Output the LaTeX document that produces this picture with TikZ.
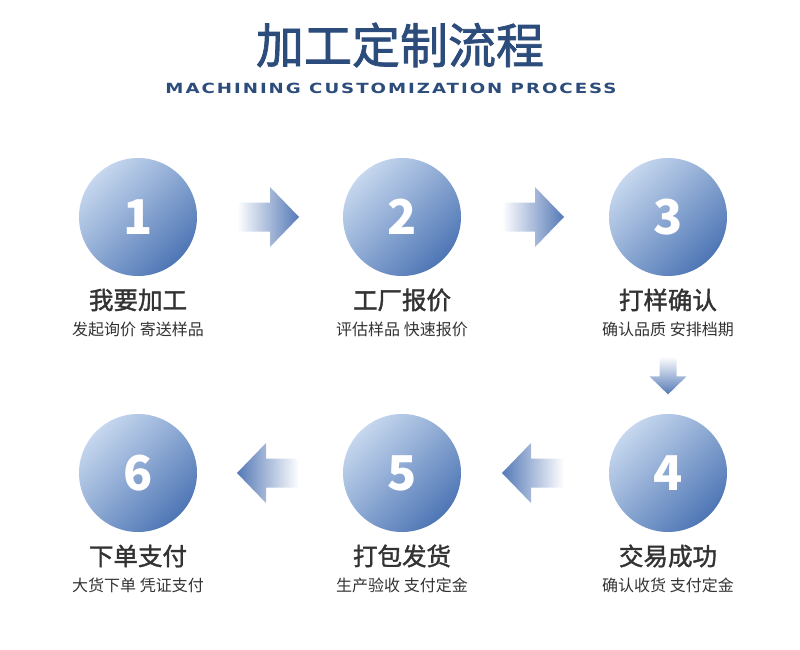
\documentclass[tikz,border=0pt]{standalone}
\usepackage{fontspec}
\usepackage{tikz}
\usetikzlibrary{calc, positioning}
\newfontfamily\cjk{Noto Sans CJK SC}
\newfontfamily\cjkmid[FakeBold=1.6]{Noto Sans CJK SC}
\newfontfamily\capsfont[FakeStretch=1.3, LetterSpace=14]{DejaVu Sans Bold}

\definecolor{titleblue}{HTML}{2C4C7B}
\definecolor{ballLight}{HTML}{C6D7EE}
\definecolor{ballDark}{HTML}{4E76B5}
\definecolor{arrowblue}{HTML}{5579B6}
\definecolor{inkgray}{HTML}{333333}

\def\rowA{-217}
\def\rowB{-473}

\tikzset{
  stepball/.style={circle, minimum size=118pt, inner sep=0pt,
    top color=ballLight, bottom color=ballDark, shading angle=45,
    text=white, font=\cjk\bfseries\fontsize{48}{48}\selectfont},
  stephead/.style={text=inkgray, font=\cjkmid\fontsize{24.5}{24.5}\selectfont},
  stepnote/.style={text=inkgray, font=\cjk\fontsize{16}{16}\selectfont},
  fadeR/.style={left color=white, right color=arrowblue},
  fadeL/.style={left color=arrowblue, right color=white},
  fadeD/.style={top color=white, bottom color=arrowblue},
}

\begin{document}
\begin{tikzpicture}[x=1pt, y=1pt]
  \useasboundingbox (0,0) rectangle (800,-650);

  % Title
  \node[text=titleblue, font=\cjkmid\fontsize{48}{48}\selectfont] (title) at (400,-45) {加工定制流程};
  \node[text=titleblue, font=\capsfont\fontsize{14}{14}\selectfont] (subtitle) at (391,-88) {MACHINING CUSTOMIZATION PROCESS};

  % Steps
  \foreach \i/\x/\y in {1/138/\rowA, 2/402/\rowA, 3/668/\rowA, 4/668/\rowB, 5/402/\rowB, 6/138/\rowB}{
    \node[stepball] (c\i) at (\x,\y) {\i};
  }

  \foreach \i/\head/\note in {1/我要加工/发起询价 寄送样品, 2/工厂报价/评估样品 快速报价, 3/打样确认/确认品质 安排档期,
                              4/交易成功/确认收货 支付定金, 5/打包发货/生产验收 支付定金, 6/下单支付/大货下单 凭证支付}{
    \node[stephead] (h\i) at ($(c\i)+(0,-83)$) {\head};
    \node[stepnote] (n\i) at ($(c\i)+(0,-112)$) {\note};
  }

  % Right arrows
  \foreach \a/\b in {1/2, 2/3}{
    \path[fadeR] ($(c\a)!0.5!(c\b)+(-33,14.5)$) -- ++(33,0) -- ++(0,15.5) -- ++(29,-30)
      -- ++(-29,-30) -- ++(0,15.5) -- ++(-33,0) -- cycle;
  }

  % Left arrows
  \foreach \a/\b in {4/5, 5/6}{
    \path[fadeL] ($(c\a)!0.5!(c\b)+(29,14.5)$) -- ++(-33,0) -- ++(0,15.5) -- ++(-29,-30)
      -- ++(29,-30) -- ++(0,15.5) -- ++(33,0) -- cycle;
  }

  % Down arrow
  \coordinate (down) at ($(n3)!0.5!(c4.north)$);
  \path[fadeD] ($(down)+(-8.5,15)$) -- ++(0,-20) -- ++(-10,0) -- ++(18.5,-18)
    -- ++(18.5,18) -- ++(-10,0) -- ++(0,20) -- cycle;
\end{tikzpicture}
\end{document}
